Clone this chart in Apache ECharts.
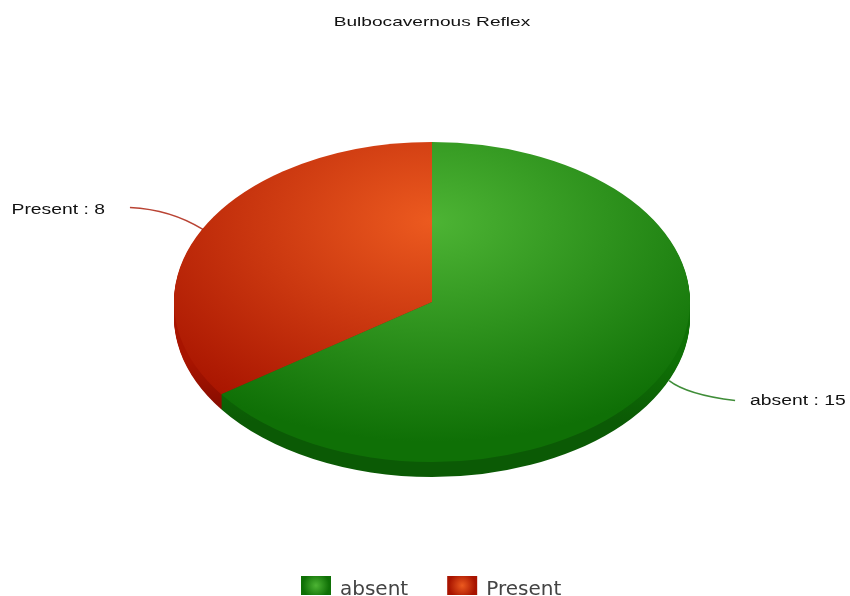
<!DOCTYPE html>
<html>
<head>
<meta charset="utf-8">
<style>html,body{margin:0;padding:0;background:#fff}#chart{width:850px;height:596px}</style>
<script src="https://cdn.jsdelivr.net/npm/echarts@6/dist/echarts.min.js"></script>
</head>
<body>
<div id="chart"></div>
<script>
// Chart values
var chartTitle = 'Bulbocavernous Reflex';
var categories = ['absent', 'Present'];
var counts = [15, 8];

// Slice colours: highlight, rim, side wall
var highlights = ['#4db434', '#ec5a1f'];
var rims = ['#0f7006', '#a81400'];
var walls = ['#0b5a05', '#7d0a00'];

// Tilted disc geometry
var CX = 432, CY = 302, RX = 258, RY = 160, DEPTH = 15;
var SQUASH = RY / RX;
var total = counts.reduce(function (a, b) { return a + b; }, 0);

// Label placement per slice, relative to the slice's mid-angle point on the rim
var leaders = [
  { start: [8, 5], control: [26, 19], end: [74, 25], text: [89, 26], align: 'left' },
  { start: [0, 1], control: [-32, -19], end: [-73, -21], text: [-98, -18], align: 'right' }
];
var TEXT_STRETCH = 1.38;

function sliceAngles(i) {
  var before = 0;
  for (var k = 0; k < i; k++) before += counts[k];
  var start = -Math.PI / 2 + before / total * Math.PI * 2;
  return [start, start + counts[i] / total * Math.PI * 2];
}

function sliceGradient(i) {
  return new echarts.graphic.RadialGradient(0, -130, 355, [
    { offset: 0, color: highlights[i] },
    { offset: 1, color: rims[i] }
  ], true);
}

// The side wall fades out towards the widest part of the disc
function wallGradient(i) {
  return new echarts.graphic.LinearGradient(0, 60 / SQUASH, 0, 120 / SQUASH, [
    { offset: 0, color: rims[i] },
    { offset: 1, color: walls[i] }
  ], true);
}

function renderSlice(params, api) {
  var i = params.seriesIndex;
  var a = sliceAngles(i);
  var discChildren = [];
  // side wall: stacked copies of the slice, lowest first
  for (var d = DEPTH; d > 0; d--) {
    discChildren.push({
      type: 'sector',
      shape: { cx: 0, cy: d / SQUASH, r0: 0, r: RX, startAngle: a[0], endAngle: a[1], clockwise: true },
      style: { fill: wallGradient(i) }
    });
  }
  discChildren.push({
    type: 'sector',
    shape: { cx: 0, cy: 0, r0: 0, r: RX, startAngle: a[0], endAngle: a[1], clockwise: true },
    style: { fill: sliceGradient(i) }
  });

  var mid = (a[0] + a[1]) / 2;
  var rimX = CX + RX * Math.cos(mid), rimY = CY + RY * Math.sin(mid);
  var l = leaders[i];
  return {
    type: 'group',
    children: [
      { type: 'group', x: CX, y: CY, scaleY: SQUASH, children: discChildren },
      {
        type: 'bezierCurve',
        shape: {
          x1: rimX + l.start[0], y1: rimY + l.start[1],
          x2: rimX + l.end[0], y2: rimY + l.end[1],
          cpx1: rimX + l.control[0], cpy1: rimY + l.control[1]
        },
        style: { fill: null, stroke: rims[i], lineWidth: 1.5, opacity: 0.8 }
      },
      {
        type: 'text',
        x: rimX + l.text[0], y: rimY + l.text[1], scaleX: TEXT_STRETCH,
        style: {
          text: categories[i] + ' : ' + api.value(0),
          font: '14px "Liberation Sans", Arial, sans-serif',
          fill: '#111', align: l.align, verticalAlign: 'middle'
        }
      }
    ]
  };
}

var chart = echarts.init(document.getElementById('chart'), null, { renderer: 'canvas' });
chart.setOption({
  animation: false,
  backgroundColor: '#fff',
  legend: {
    left: 296, top: 571, itemWidth: 30, itemHeight: 19, itemGap: 39,
    icon: 'rect', selectedMode: false,
    formatter: '{t|{name}}',
    textStyle: {
      rich: {
        t: {
          fontFamily: '"DejaVu Sans", Verdana, sans-serif', fontSize: 20,
          color: '#444', padding: [9, 0, 0, 4]
        }
      }
    },
    data: categories.map(function (name, i) {
      return {
        name: name,
        itemStyle: {
          color: new echarts.graphic.RadialGradient(0.5, 0.5, 0.7, [
            { offset: 0, color: highlights[i] },
            { offset: 1, color: rims[i] }
          ])
        }
      };
    })
  },
  graphic: [{
    type: 'text', x: 432, y: 22, scaleX: 1.47,
    style: {
      text: chartTitle, font: '13px "Liberation Sans", Arial, sans-serif',
      fill: '#111', align: 'center', verticalAlign: 'middle'
    }
  }],
  series: categories.map(function (name, i) {
    return {
      type: 'custom', name: name, coordinateSystem: 'none',
      z: 2 - i,
      renderItem: renderSlice, data: [[counts[i]]],
      itemStyle: { color: rims[i] }
    };
  })
});
</script>
</body>
</html>
